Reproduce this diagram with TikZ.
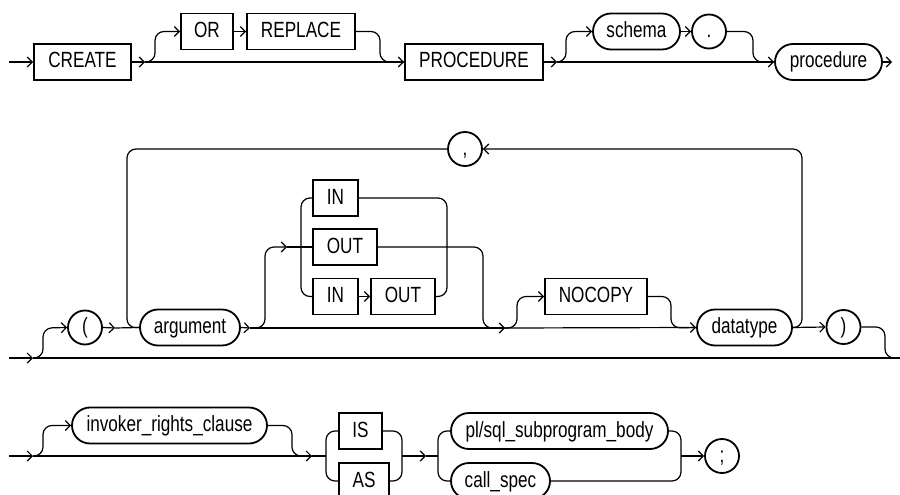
\documentclass[tikz,border=0pt]{standalone}
\usepackage{fontspec}
\setmainfont{Liberation Sans}[FakeStretch=0.78]
\usetikzlibrary{arrows.meta,shapes.misc}
\begin{document}
\begin{tikzpicture}[x=1pt,y=-1pt,
  txt/.style={font=\fontsize{22}{26}\selectfont, text height=16pt, text depth=4pt, inner sep=0pt},
  kw/.style={txt, draw, line width=1.8pt, rectangle, minimum height=36pt},
  nt/.style={txt, draw, line width=1.8pt, rounded rectangle, minimum height=36pt},
  sym/.style={txt, draw, line width=1.8pt, circle, minimum size=34pt},
  conn/.style={line width=1.2pt, rounded corners=9pt},
  arr/.style={conn, -{Straight Barb[length=5pt,width=10pt,line width=1.2pt]}}]
\useasboundingbox (0,0) rectangle (900,495);

% ---------- row 1 ----------
\node[kw, minimum width=97pt]  (create) at (82.5,62) {CREATE};
\node[kw, minimum width=52pt]  (or)     at (207,31.5) {OR};
\node[kw, minimum width=108pt] (replace) at (301,31.5) {REPLACE};
\node[kw, minimum width=138pt] (proc)   at (474,62) {PROCEDURE};
\node[nt, minimum width=87pt]  (schema) at (636.5,31.5) {schema};
\node[sym] (dot) at (709,31.5) {.};
\node[nt, minimum width=107pt] (procname) at (828.5,62) {procedure};

\coordinate (s1) at (9,62);
\coordinate (a1) at (145,62);
\coordinate (a2) at (557,62);
\coordinate (e1) at (892,62);

\draw[arr] (s1) -- (create.west);
\draw[arr] (create.east) -- (a1);
\draw[arr] (a1) -- (155,62) -- (155,31.5) -- (or.west);
\draw[arr] (or.east) -- (replace.west);
\draw[conn] (replace.east) -- (380,31.5) -- (380,62) -- (proc.west);
\draw[arr] (a1) -- (proc.west);
\draw[arr] (proc.east) -- (a2);
\draw[arr] (a2) -- (566,62) -- (566,31.5) -- (schema.west);
\draw[arr] (schema.east) -- (dot.west);
\draw[conn] (dot.east) -- (753,31.5) -- (753,62) -- (procname.west);
\draw[arr] (a2) -- (procname.west);
\draw[arr] (procname.east) -- (e1);

% ---------- row 2 ----------
\node[sym] (lp) at (85,327.5) {(};
\node[nt, minimum width=100pt] (argument) at (190,327.5) {argument};
\node[kw, minimum width=45pt] (in1)  at (335.5,198) {IN};
\node[kw, minimum width=64pt] (out1) at (345,247) {OUT};
\node[kw, minimum width=45pt] (in2)  at (335.5,296.5) {IN};
\node[kw, minimum width=64pt] (out2) at (403,296.5) {OUT};
\node[kw, minimum width=102pt] (nocopy) at (596,296.5) {NOCOPY};
\node[nt, minimum width=95pt] (datatype) at (744.5,327.5) {datatype};
\node[sym] (comma) at (465,149) {,};
\node[sym] (rp) at (843.5,327) {)};

\coordinate (s2) at (9,358);
\coordinate (b0) at (33,358);
\coordinate (b1) at (115,328);
\coordinate (b2) at (250,328);
\coordinate (b3) at (287,247);
\coordinate (b4) at (505,328);
\coordinate (e2) at (900,358);

\draw[arr] (s2) -- (b0);
\draw[conn] (b0) -- (e2);
\draw[arr] (b0) -- (43,358) -- (43,328) -- (lp.west);
\draw[arr] (lp.east) -- (b1);
\draw[conn] (b1) -- (argument.west);
\draw[conn] (comma.west) -- (127,149) -- (127,328) -- (argument.west);
\draw[arr] (argument.east) -- (b2);
\draw[arr] (b2) -- (b4);
\draw[arr] (b4) -- (datatype.west);
\draw[arr] (b2) -- (265,328) -- (265,247) -- (b3);
\draw[conn] (b3) -- (out1.west);
\draw[conn] (in1.west) -- (301,198) -- (301,296.5) -- (in2.west);
\draw[arr] (in2.east) -- (out2.west);
\draw[conn] (in1.east) -- (447,198) -- (447,296.5) -- (out2.east);
\draw[conn] (out1.east) -- (483,247) -- (483,328) -- (b4);
\draw[arr] (b4) -- (517,328) -- (517,296.5) -- (nocopy.west);
\draw[conn] (nocopy.east) -- (671,296.5) -- (671,328) -- (datatype.west);
\draw[arr] (datatype.east) -- (802,328) -- (802,149) -- (comma.east);
\draw[arr] (datatype.east) -- (rp.west);
\draw[conn] (rp.east) -- (885,327) -- (885,358) -- (e2);

% ---------- row 3 ----------
\node[nt, minimum width=195pt] (irc) at (169.5,425.5) {invoker\_rights\_clause};
\node[kw, minimum width=43pt] (is) at (360.5,431) {IS};
\node[kw, minimum width=50pt] (as) at (364,481) {AS};
\node[nt, minimum width=217pt] (psb) at (559.5,431) {pl/sql\_subprogram\_body};
\node[nt, minimum width=99pt] (cs) at (500.5,481) {call\_spec};
\node[sym] (semi) at (722,456) {;};

\coordinate (s3) at (9,456);
\coordinate (c0) at (33,456);
\coordinate (c1) at (312,456);
\coordinate (c2) at (426,456);
\coordinate (j1) at (326,456);
\coordinate (j2) at (402,456);
\coordinate (j3) at (438,456);
\coordinate (j4) at (681,456);

\draw[arr] (s3) -- (c0);
\draw[arr] (c0) -- (c1);
\draw[arr] (c0) -- (43,456) -- (43,425.5) -- (irc.west);
\draw[conn] (irc.east) -- (292,425.5) -- (292,456) -- (c1);
\draw[conn] (c1) -- (j1);
\draw[conn] (is.west) -- (326,431) -- (326,481) -- (as.west);
\draw[conn] (is.east) -- (402,431) -- (402,481) -- (as.east);
\draw[arr] (j2) -- (c2);
\draw[conn] (c2) -- (j3);
\draw[conn] (psb.west) -- (438,431) -- (438,481) -- (cs.west);
\draw[conn] (psb.east) -- (681,431) -- (681,481) -- (cs.east);
\draw[arr] (j4) -- (semi.west);
\end{tikzpicture}
\end{document}
